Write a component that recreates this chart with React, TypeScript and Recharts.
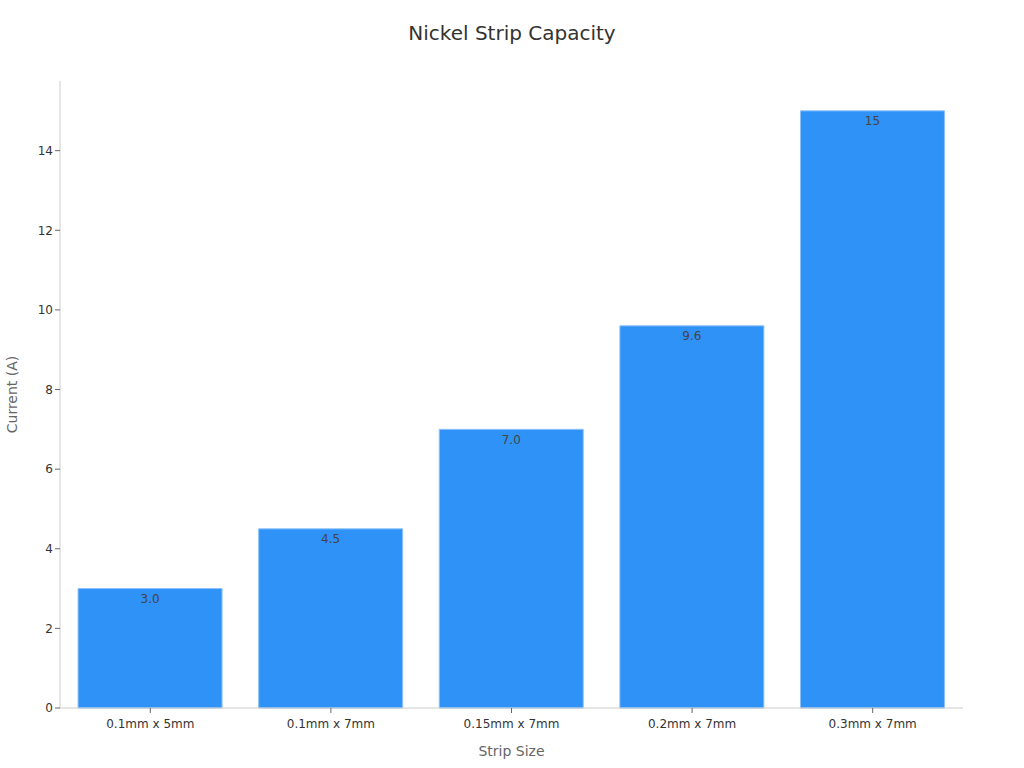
import { BarChart, Bar, XAxis, YAxis, LabelList, Label } from 'recharts';

const sizes = ['0.1mm x 5mm', '0.1mm x 7mm', '0.15mm x 7mm', '0.2mm x 7mm', '0.3mm x 7mm'];
const currents = [3.0, 4.5, 7.0, 9.6, 15];
const yTicks = [0, 2, 4, 6, 8, 10, 12, 14];

const data = sizes.map((size, i) => ({ size, current: currents[i] }));

const fmt = (v: any) => (Number(v) >= 10 ? String(Math.round(Number(v))) : Number(v).toFixed(1));

const App = () => {
    return (
        <div style={{ position: 'fixed', left: 0, top: 0, width: 1024, height: 768, background: '#fff', fontFamily: 'DejaVu Sans' }}>
            <div style={{ position: 'absolute', top: 21, left: 0, width: 1024, textAlign: 'center', fontSize: 20, color: '#333' }}>
                Nickel Strip Capacity
            </div>
            <BarChart
                width={1024}
                height={768}
                data={data}
                margin={{ top: 81, right: 61, bottom: 0, left: 0 }}
                barCategoryGap="10%"
            >
                <XAxis
                    dataKey="size"
                    height={60}
                    stroke="#ccc"
                    tick={{ fill: '#333', fontSize: 12 }}
                    tickLine={{ stroke: '#666' }}
                    tickSize={5}
                    tickMargin={6}
                >
                    <Label value="Strip Size" position="insideBottom" offset={12} fill="#666" fontSize={14} />
                </XAxis>
                <YAxis
                    width={60}
                    domain={[0, 15.75]}
                    ticks={yTicks}
                    stroke="#ccc"
                    tick={{ fill: '#333', fontSize: 12 }}
                    tickLine={{ stroke: '#666' }}
                    tickSize={5}
                >
                    <Label value="Current (A)" angle={-90} position="insideLeft" offset={12} fill="#666" fontSize={14} style={{ textAnchor: 'middle' }} />
                </YAxis>
                <Bar dataKey="current" fill="#2f92f7" stroke="#8cc2fb" strokeWidth={1} isAnimationActive={false}>
                    <LabelList dataKey="current" position="insideTop" offset={6} fill="#444" fontSize={12} formatter={fmt} />
                </Bar>
            </BarChart>
        </div>
    );
};

export default App;
